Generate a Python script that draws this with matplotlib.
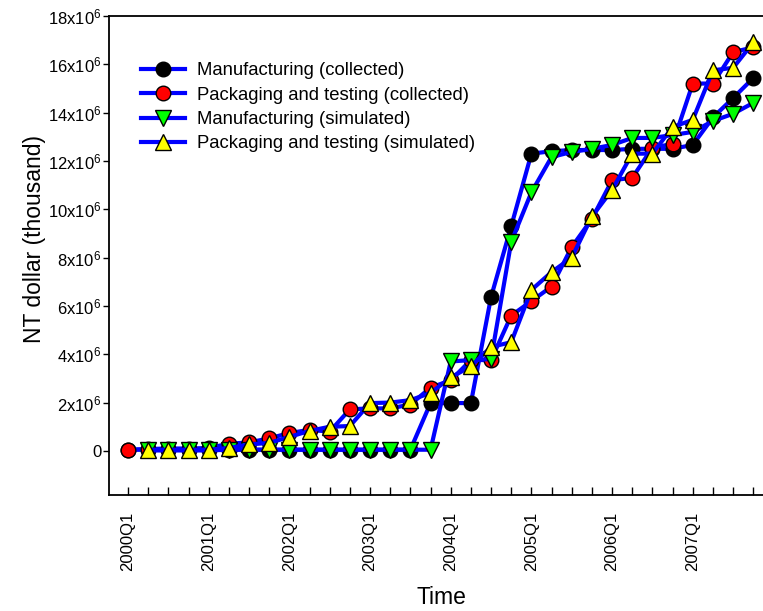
import numpy as np
import matplotlib.pyplot as plt
from matplotlib.ticker import FixedLocator, MultipleLocator

plt.rcParams['font.family'] = ['Liberation Sans', 'DejaVu Sans']
plt.rcParams['mathtext.fontset'] = 'custom'
plt.rcParams['mathtext.rm'] = 'Liberation Sans'
plt.rcParams['mathtext.it'] = 'Liberation Sans'

# quarterly output, 2000Q1 .. 2007Q4, in million NT dollars (thousand units x 1e6)
years = ['2000', '2001', '2002', '2003', '2004', '2005', '2006', '2007']
quarters = [y + 'Q' + str(q) for y in years for q in range(1, 5)]

mfg_collected = [0.05, 0.05, 0.05, 0.05, 0.05, 0.05, 0.05, 0.05,
                 0.05, 0.05, 0.05, 0.05, 0.05, 0.05, 0.05, 1.98,
                 1.98, 1.98, 6.37, 9.3, 12.3, 12.4, 12.45, 12.45,
                 12.45, 12.5, 12.5, 12.5, 12.66, 13.8, 14.6, 15.43]
pkg_collected = [0.05, 0.08, 0.1, 0.1, 0.12, 0.3, 0.35, 0.52,
                 0.74, 0.87, 0.8, 1.72, 1.76, 1.76, 1.92, 2.62,
                 2.92, 3.76, 3.76, 5.6, 6.2, 6.8, 8.44, 9.6,
                 11.2, 11.3, 12.55, 12.7, 15.2, 15.2, 16.5, 16.7]
mfg_simulated = [None, 0.02, 0.02, 0.02, 0.02, 0.05, 0.05, 0.05,
                 0.05, 0.05, 0.05, 0.05, 0.05, 0.05, 0.05, 0.05,
                 3.7, 3.76, 3.8, 8.65, 10.7, 12.16, 12.37, 12.5,
                 12.66, 12.95, 12.95, 13.07, 13.2, 13.65, 13.95, 14.4]
pkg_simulated = [None, 0.05, 0.05, 0.05, 0.05, 0.12, 0.27, 0.33,
                 0.58, 0.83, 1.0, 1.03, 1.98, 2.0, 2.1, 2.4,
                 3.04, 3.5, 4.3, 4.5, 6.66, 7.4, 8.0, 9.7,
                 10.8, 12.3, 12.3, 13.4, 13.7, 15.75, 15.85, 16.9]

series = [
    ('Manufacturing (collected)', mfg_collected, 'o', 'black'),
    ('Packaging and testing (collected)', pkg_collected, 'o', 'red'),
    ('Manufacturing (simulated)', mfg_simulated, 'v', '#00ff00'),
    ('Packaging and testing (simulated)', pkg_simulated, '^', 'yellow'),
]

fig = plt.figure(figsize=(7.63, 6.11), dpi=100)
ax = fig.add_axes([0.1429, 0.19, 0.8708, 0.784])

x = np.arange(len(quarters))
for label, vals, mk, col in series:
    y = np.array([np.nan if v is None else v * 1e6 for v in vals])
    ax.plot(x, y, color='#0000ff', lw=3.0, marker=mk, markersize=10.5 if mk == 'o' else 11,
            markerfacecolor=col, markeredgecolor='black', markeredgewidth=1.0,
            label=label)

ax.set_xlim(-0.94, 32.0)
ax.set_ylim(-1.82e6, 18e6)

yt = np.arange(0, 19, 2)
ax.yaxis.set_major_locator(FixedLocator(yt * 1e6))
ax.set_yticklabels(['0'] + [r'%dx10$^{6}$' % v for v in yt[1:]], fontsize=12)
ax.tick_params(axis='y', direction='out', length=4.5, width=1, pad=1)

ax.xaxis.set_major_locator(FixedLocator(x[::4]))
ax.xaxis.set_minor_locator(MultipleLocator(1))
ax.set_xticklabels(quarters[::4], rotation=90, fontsize=12)
ax.tick_params(axis='x', which='both', direction='in', length=6, width=1, pad=12)

for s in ax.spines.values():
    s.set_linewidth(1.3)

ax.set_xlabel('Time', fontsize=16.5, labelpad=11)
ax.set_ylabel('NT dollar (thousand)', fontsize=16.5)
ax.yaxis.set_label_coords(-0.095, 0.534)

ax.legend(loc='upper left', bbox_to_anchor=(0.026, 0.934), frameon=False,
          fontsize=13.3, handlelength=2.4, handletextpad=0.6, labelspacing=0.4,
          borderaxespad=0.4)

fig.savefig('out.png', dpi=100)
